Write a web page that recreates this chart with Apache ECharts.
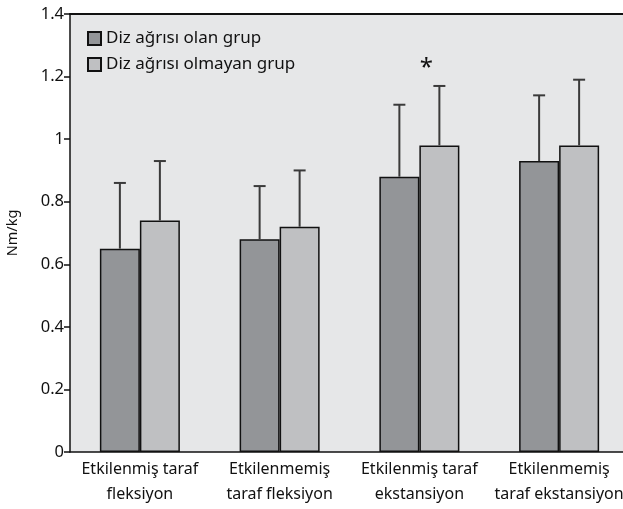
<!DOCTYPE html>
<html>
<head>
<meta charset="utf-8">
<script src="https://cdn.jsdelivr.net/npm/echarts@6/dist/echarts.min.js"></script>
<style>
  html, body { margin: 0; padding: 0; background: #fff; overflow: hidden; }
  #chart { width: 623px; height: 509px; }
</style>
</head>
<body>
<div id="chart"></div>
<script>
// kategoriler ve değerler (Nm/kg)
const categories = [
  'Etkilenmiş taraf\nfleksiyon',
  'Etkilenmemiş\ntaraf fleksiyon',
  'Etkilenmiş taraf\nekstansiyon',
  'Etkilenmemiş\ntaraf ekstansiyon'
];
const seriesNames = ['Diz ağrısı olan grup', 'Diz ağrısı olmayan grup'];
const painMean = [0.65, 0.68, 0.88, 0.93];
const painUpper = [0.86, 0.85, 1.11, 1.14];
const noPainMean = [0.74, 0.72, 0.98, 0.98];
const noPainUpper = [0.93, 0.90, 1.17, 1.19];
const significance = ['', '', '*', ''];

const BAR_W = 40;
const FONT = '"Noto Sans", "DejaVu Sans", sans-serif';

function errorSeries(means, uppers, side, marks) {
  return {
    type: 'custom',
    data: means.map((m, i) => [i, m, uppers[i], marks ? marks[i] : '']),
    z: 5,
    clip: false,
    renderItem: function (params, api) {
      const i = api.value(0);
      const top = api.coord([i, api.value(2)]);
      const base = api.coord([i, api.value(1)]);
      const x = top[0] + side * BAR_W / 2;
      const children = [
        { type: 'line', shape: { x1: x, y1: base[1], x2: x, y2: top[1] },
          style: { stroke: '#3a3a3a', lineWidth: 2 } },
        { type: 'line', shape: { x1: x - 6, y1: top[1], x2: x + 6, y2: top[1] },
          style: { stroke: '#3a3a3a', lineWidth: 2 } }
      ];
      const mark = marks ? marks[params.dataIndex] : '';
      if (mark) {
        children.push({ type: 'text', style: {
          text: mark, x: x - 13, y: top[1] - 6, align: 'center', verticalAlign: 'bottom',
          font: '24px ' + FONT, fill: '#111' } });
      }
      return { type: 'group', children: children };
    }
  };
}

let myChart = echarts.init(document.getElementById('chart'));
let option = {
  animation: false,
  backgroundColor: '#ffffff',
  textStyle: { fontFamily: FONT },
  grid: {
    left: 70, top: 14, right: -6, bottom: 57,
    outerBoundsMode: 'none',
    show: false
  },
  legend: {
    orient: 'vertical', left: 82, top: 25,
    itemWidth: 13, itemHeight: 13, itemGap: 9, icon: 'rect',
    textStyle: { fontSize: 17, color: '#111', fontFamily: FONT },
    data: seriesNames
  },
  xAxis: [
    {
      type: 'category',
      data: categories,
      axisLine: { lineStyle: { color: '#111', width: 1.5 } },
      axisTick: { length: 9, lineStyle: { color: '#111', width: 1.5 } },
      axisLabel: { color: '#111', fontSize: 16, lineHeight: 25, margin: 5, interval: 0 }
    },
    {
      // üst çerçeve çizgisi
      type: 'category', position: 'top', data: categories,
      axisLine: { lineStyle: { color: '#111', width: 2 } },
      axisTick: { show: false }, axisLabel: { show: false }
    }
  ],
  yAxis: {
    type: 'value', min: 0, max: 1.4, interval: 0.2,
    name: 'Nm/kg', nameLocation: 'middle', nameGap: 50, nameRotate: 90,
    nameTextStyle: { color: '#111', fontSize: 14.5 },
    splitLine: { show: false },
    splitArea: { show: true, areaStyle: { color: ['#e6e7e8'] } },
    axisLine: { show: true, lineStyle: { color: '#111', width: 1.5 } },
    axisTick: { show: true, length: 6, lineStyle: { color: '#111', width: 1.5 } },
    axisLabel: { color: '#111', fontSize: 16.5, margin: 6 }
  },
  series: [
    {
      name: seriesNames[0], type: 'bar', data: painMean,
      barWidth: BAR_W, barGap: '0%',
      itemStyle: { color: '#939598', borderColor: '#111', borderWidth: 1.5 }
    },
    {
      name: seriesNames[1], type: 'bar', data: noPainMean,
      barWidth: BAR_W, barGap: '0%',
      itemStyle: { color: '#bfc0c2', borderColor: '#111', borderWidth: 1.5 }
    },
    errorSeries(painMean, painUpper, -1, null),
    errorSeries(noPainMean, noPainUpper, 1, significance)
  ]
};
myChart.setOption(option);

window.addEventListener('resize', function () {
  myChart.resize();
}, false);
</script>
</body>
</html>
